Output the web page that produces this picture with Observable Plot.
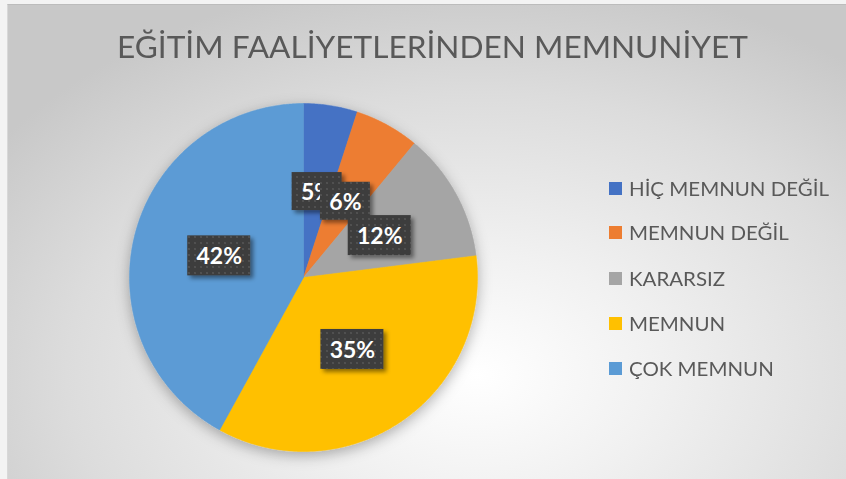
<!DOCTYPE html>
<html>
<head>
<meta charset="utf-8">
<script src="https://cdn.jsdelivr.net/npm/d3@7"></script>
<script src="https://cdn.jsdelivr.net/npm/@observablehq/plot@0.6"></script>
<style>
  html, body { margin: 0; padding: 0; background: #ffffff; }
  #wrap { position: relative; width: 846px; height: 479px; overflow: hidden; background: #f3f3f3; }
  #chart { position: absolute; left: 7px; top: 4px; right: 0; bottom: 0;
    border-top: 1px solid #bcbcbc; border-left: 1px solid #d8d8d8;
    background: radial-gradient(ellipse 70% 85% at 56% 78%, #ffffff 0%, #f1f1f1 30%, #dcdcdc 70%, #c8c8c8 100%); }
  #plot { position: absolute; left: 0; top: 0; }
  #title { position: absolute; left: 117px; top: 31px; white-space: nowrap; transform-origin: 0 0;
    font-family: Lato, "Open Sans", sans-serif; font-weight: 400; color: #595959; line-height: 1; }
  .lg { position: absolute; left: 609px; height: 20px; display: flex; align-items: center; white-space: nowrap;
    font-family: Lato, "Open Sans", sans-serif; color: #595959; line-height: 1; }
  .lg .sw { width: 13px; height: 13px; margin-right: 7px; flex: none; }
</style>
</head>
<body>
<div id="wrap"><div id="chart"></div><div id="plot"></div></div>
<script>
// ---- data ----
const categories = ["HİÇ MEMNUN DEĞİL", "MEMNUN DEĞİL", "KARARSIZ", "MEMNUN", "ÇOK MEMNUN"];
const values = [5, 6, 12, 35, 42];
const labels = ["5%", "6%", "12%", "35%", "42%"];
const colors = ["#4472C4", "#ED7D31", "#A5A5A5", "#FFC000", "#5B9BD5"];
const title = "EĞİTİM FAALİYETLERİNDEN MEMNUNİYET";

// ---- layout ----
const W = 846, H = 479, CX = 303, CY = 277, R = 174;

const total = d3.sum(values);
let cum = 0;
const slices = values.map((v, i) => {
  const a0 = cum / total * 2 * Math.PI; cum += v;
  const a1 = cum / total * 2 * Math.PI;
  return {cat: categories[i], a0, a1, label: labels[i], i};
});
const pts = slices.flatMap(s => {
  const n = Math.max(2, Math.ceil((s.a1 - s.a0) / (Math.PI / 360)));
  const arr = [{cat: s.cat, x: 0, y: 0}];
  for (let k = 0; k <= n; k++) {
    const a = s.a0 + (s.a1 - s.a0) * k / n;
    arr.push({cat: s.cat, x: Math.sin(a), y: Math.cos(a)});
  }
  arr.push({cat: s.cat, x: 0, y: 0});
  return arr;
});
const lab = slices.map(s => {
  const m = (s.a0 + s.a1) / 2;
  return {...s, lx: 0.5 * Math.sin(m), ly: 0.5 * Math.cos(m)};
});

const defsMark = () => {
  const defs = d3.create("svg:defs");
  const p = defs.append("pattern").attr("id", "dots").attr("width", 6).attr("height", 6)
    .attr("patternUnits", "userSpaceOnUse");
  p.append("rect").attr("width", 6).attr("height", 6).attr("fill", "#3d3d3d");
  p.append("circle").attr("cx", 3).attr("cy", 3).attr("r", 1.1).attr("fill", "#555555");
  const f1 = defs.append("filter").attr("id", "boxshadow").attr("x", "-30%").attr("y", "-30%")
    .attr("width", "170%").attr("height", "180%");
  f1.append("feDropShadow").attr("dx", 3).attr("dy", 3).attr("stdDeviation", 2.2)
    .attr("flood-color", "#000").attr("flood-opacity", 0.45);
  const f2 = defs.append("filter").attr("id", "pieshadow").attr("x", "-20%").attr("y", "-20%")
    .attr("width", "140%").attr("height", "145%");
  f2.append("feDropShadow").attr("dx", 0).attr("dy", 4).attr("stdDeviation", 7)
    .attr("flood-color", "#000").attr("flood-opacity", 0.3);
  return defs.node();
};

const marks = [
  defsMark,
  Plot.line(pts, {x: "x", y: "y", z: "cat", fill: "cat", stroke: "cat", strokeWidth: 0.5, curve: "linear"})
];
lab.forEach(d => {
  const w = d.label.length > 2 ? 63 : 50, h = d.label.length > 2 ? 40 : 38;
  marks.push(Plot.rect([d], {x1: "lx", x2: "lx", y1: "ly", y2: "ly",
    insetLeft: -w / 2, insetRight: -w / 2, insetTop: -h / 2, insetBottom: -h / 2, fill: "url(#dots)"}));
  marks.push(Plot.text([d], {x: "lx", y: "ly", text: "label", fill: "white", fontSize: 23,
    fontWeight: "bold", fontFamily: "Lato, 'Open Sans', sans-serif", dy: 1}));
});

const chart = Plot.plot({
  width: W, height: H, margin: 0,
  style: {background: "transparent"},
  x: {domain: [-CX / R, (W - CX) / R], axis: null},
  y: {domain: [-(H - CY) / R, CY / R], axis: null},
  color: {domain: categories, range: colors},
  marks
});
chart.querySelectorAll('g[aria-label="rect"]').forEach(g => g.setAttribute("filter", "url(#boxshadow)"));
const pieG = chart.querySelector('g[aria-label="line"]');
if (pieG) pieG.setAttribute("filter", "url(#pieshadow)");
document.getElementById("plot").appendChild(chart);

// ---- title ----
const wrap = document.getElementById("wrap");
const t = document.createElement("div");
t.id = "title"; t.textContent = title; t.style.fontSize = "31px";
wrap.appendChild(t);
const tw = t.getBoundingClientRect().width;
t.style.transform = "scaleX(" + (631 / tw) + ")";

// ---- legend ----
const rowY = [188, 232, 278, 323, 368];
categories.forEach((c, i) => {
  const row = document.createElement("div");
  row.className = "lg";
  row.style.top = (rowY[i] - 10) + "px";
  row.style.fontSize = "19px";
  const sw = document.createElement("span"); sw.className = "sw"; sw.style.background = colors[i];
  const tx = document.createElement("span"); tx.textContent = c;
  tx.style.display = "inline-block"; tx.style.transformOrigin = "0 50%";
  row.appendChild(sw); row.appendChild(tx);
  wrap.appendChild(row);
});
// compress legend text so the longest label spans ~200px
const spans = wrap.querySelectorAll(".lg span:last-child");
const lw = spans[0].getBoundingClientRect().width;
spans.forEach(s => s.style.transform = "scaleX(" + (200 / lw) + ")");
</script>
</body>
</html>
